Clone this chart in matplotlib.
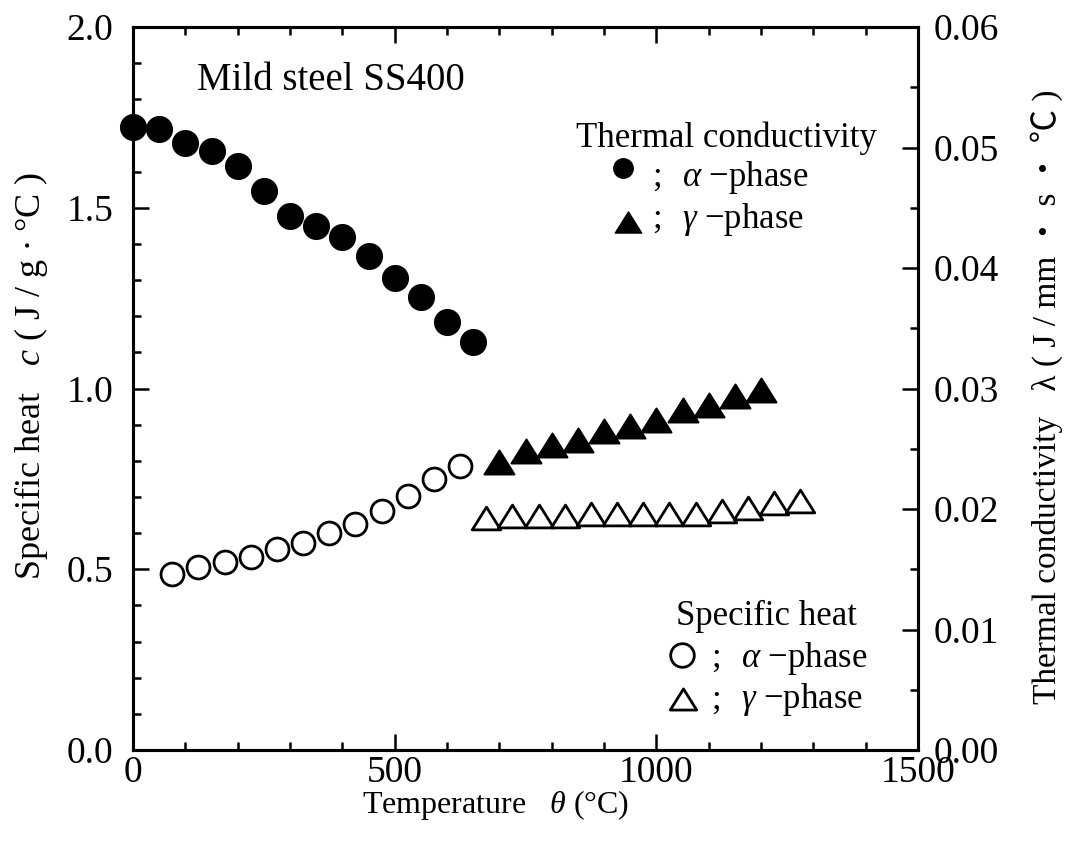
import matplotlib
matplotlib.use('Agg')
import matplotlib.pyplot as plt
from matplotlib.ticker import MultipleLocator
from matplotlib.path import Path
from matplotlib.markers import MarkerStyle

plt.rcParams['font.family'] = ['Liberation Serif', 'Noto Sans CJK JP']
plt.rcParams['mathtext.fontset'] = 'custom'
plt.rcParams['mathtext.rm'] = 'Liberation Serif'
plt.rcParams['mathtext.it'] = 'Liberation Serif:italic'

# Thermal conductivity lambda (J/mm s C), alpha and gamma phase
t_lam_a = [0, 50, 100, 150, 200, 250, 300, 350, 400, 450, 500, 550, 600, 650]
lam_a = [0.0517, 0.0515, 0.0504, 0.0497, 0.0485, 0.0464, 0.0443, 0.0435,
         0.0426, 0.0410, 0.0392, 0.0376, 0.0355, 0.0339]
t_lam_g = [700, 750, 800, 850, 900, 950, 1000, 1050, 1100, 1150, 1200]
lam_g = [0.0239, 0.0248, 0.0253, 0.0257, 0.0265, 0.0269, 0.0274, 0.0282,
         0.0286, 0.0294, 0.0299]

# Specific heat c (J/g C), alpha and gamma phase
t_cp_a = [75, 125, 175, 225, 275, 325, 375, 425, 475, 525, 575, 625]
cp_a = [0.486, 0.507, 0.519, 0.533, 0.556, 0.573, 0.599, 0.624, 0.661,
        0.703, 0.749, 0.786]
t_cp_g = [675, 725, 775, 825, 875, 925, 975, 1025, 1075, 1125, 1175, 1225, 1275]
cp_g = [0.643, 0.648, 0.648, 0.648, 0.653, 0.653, 0.653, 0.653, 0.653,
        0.661, 0.669, 0.682, 0.689]

# slightly squat triangle marker
tri_path = Path([(-1, -0.8), (1, -0.8), (0, 0.8), (-1, -0.8)],
                [Path.MOVETO, Path.LINETO, Path.LINETO, Path.CLOSEPOLY])
tri = MarkerStyle(tri_path, joinstyle='miter')

fig = plt.figure(figsize=(10.75, 8.48), dpi=100)
ax = fig.add_axes([133 / 1075, 98 / 848, 785 / 1075, 723 / 848])
ax2 = ax.twinx()

ax.plot(t_cp_a, cp_a, ls='none', marker='o', ms=16.5, mfc='white', mec='black', mew=2.0)
ax.plot(t_cp_g, cp_g, ls='none', marker=tri, ms=20.5, mfc='white', mec='black', mew=2.0)
ax2.plot(t_lam_a, lam_a, ls='none', marker='o', ms=18, mfc='black', mec='black',
         mew=1.5, clip_on=False)
ax2.plot(t_lam_g, lam_g, ls='none', marker=tri, ms=21.5, mfc='black', mec='black', mew=1.5)

ax.set_xlim(0, 1500)
ax.set_ylim(0, 2.0)
ax2.set_ylim(0, 0.06)
ax.xaxis.set_major_locator(MultipleLocator(500))
ax.xaxis.set_minor_locator(MultipleLocator(100))
ax.yaxis.set_major_locator(MultipleLocator(0.5))
ax.yaxis.set_minor_locator(MultipleLocator(0.1))
ax2.yaxis.set_major_locator(MultipleLocator(0.01))
ax2.yaxis.set_minor_locator(MultipleLocator(0.005))
ax.yaxis.set_major_formatter('{x:.1f}')
ax2.yaxis.set_major_formatter('{x:.2f}')

for a in (ax, ax2):
    for s in a.spines.values():
        s.set_linewidth(2.2)
ax.tick_params(which='both', direction='in', top=True, right=False, width=1.8, labelsize=27)
ax2.tick_params(which='both', direction='in', width=1.8, labelsize=27, pad=11)
for a in (ax, ax2):
    a.tick_params(which='major', length=11.5)
    a.tick_params(which='minor', length=6)
ax.tick_params(axis='y', pad=14)
ax.tick_params(axis='x', pad=4)

ax.set_xlabel('Temperature   $\\theta$ (°C)', fontsize=23)
ax.xaxis.set_label_coords(0.462, -0.052)
ax.set_ylabel('Specific heat   $c$ ( J / g $\\bullet$ °C )', fontsize=26)
ax.yaxis.set_label_coords(-0.106, 0.518)
ax2.set_ylabel('Thermal conductivity   λ ( J / mm ・ s ・ ℃ )', fontsize=24)
ax2.yaxis.set_label_coords(1.143, 0.488)

ax.text(0.081, 0.913, 'Mild steel SS400', transform=ax.transAxes, fontsize=28,
        ha='left', va='baseline')

# key for thermal conductivity
ax.text(0.756, 0.834, 'Thermal conductivity', transform=ax.transAxes, fontsize=25,
        ha='center', va='baseline')
ax2.plot([0.6245], [0.8046], transform=ax.transAxes, ls='none', marker='o', ms=14,
         mfc='black', mec='black')
ax2.plot([0.630], [0.7307], transform=ax.transAxes, ls='none', marker=tri, ms=19,
         mfc='black', mec='black', mew=1.0)
ax.text(0.661, 0.780, ';', transform=ax.transAxes, fontsize=25, va='baseline')
ax.text(0.700, 0.780, '$\\alpha$ −phase', transform=ax.transAxes, fontsize=25, va='baseline')
ax.text(0.661, 0.722, ';', transform=ax.transAxes, fontsize=25, va='baseline')
ax.text(0.700, 0.722, '$\\gamma$ −phase', transform=ax.transAxes, fontsize=25, va='baseline')

# key for specific heat
ax.text(0.807, 0.173, 'Specific heat', transform=ax.transAxes, fontsize=25,
        ha='center', va='baseline')
ax.plot([0.699], [0.131], transform=ax.transAxes, ls='none', marker='o', ms=17,
        mfc='white', mec='black', mew=2.0)
ax.plot([0.700], [0.070], transform=ax.transAxes, ls='none', marker=tri, ms=19,
        mfc='white', mec='black', mew=2.0)
ax.text(0.737, 0.115, ';', transform=ax.transAxes, fontsize=25, va='baseline')
ax.text(0.775, 0.115, '$\\alpha$ −phase', transform=ax.transAxes, fontsize=25, va='baseline')
ax.text(0.737, 0.0576, ';', transform=ax.transAxes, fontsize=25, va='baseline')
ax.text(0.775, 0.0576, '$\\gamma$ −phase', transform=ax.transAxes, fontsize=25, va='baseline')

fig.savefig('out.png', dpi=100)
